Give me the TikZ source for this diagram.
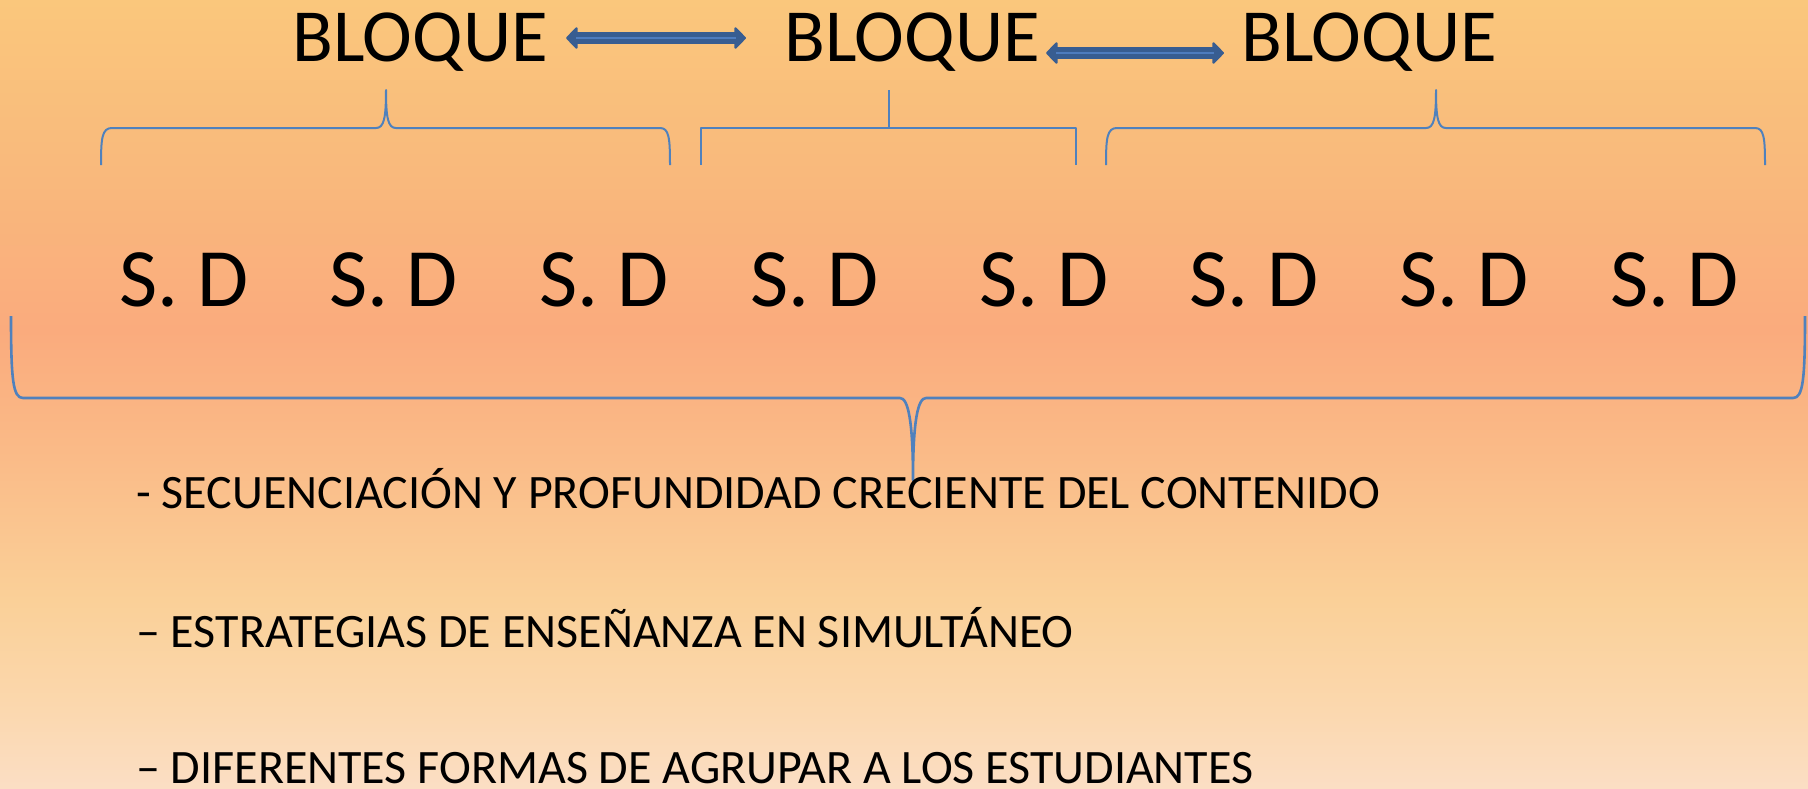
\documentclass[tikz,border=0pt]{standalone}
\usepackage{fontspec}
\setmainfont{Carlito}
\usetikzlibrary{arrows.meta}
\definecolor{bracecol}{HTML}{4F81BD}
\definecolor{arrowdark}{RGB}{56,93,145}
\definecolor{arrowlight}{RGB}{78,124,190}
\definecolor{bgA}{RGB}{250,199,124}
\definecolor{bgB}{RGB}{249,186,124}
\definecolor{bgC}{RGB}{250,171,125}
\definecolor{bgD}{RGB}{250,186,135}
\definecolor{bgE}{RGB}{250,208,152}
\definecolor{bgF}{RGB}{251,215,172}
\definecolor{bgG}{RGB}{251,222,196}
\pgfdeclareverticalshading{slidebg}{100bp}{color(0bp)=(bgG); color(25bp)=(bgG); color(30.58bp)=(bgF); color(36.93bp)=(bgE); color(46.45bp)=(bgD); color(54.06bp)=(bgC); color(64.85bp)=(bgB); color(75bp)=(bgA); color(100bp)=(bgA)}
\tikzset{
  bloque/.style={anchor=base, inner sep=0pt, font=\fontsize{75}{80}\selectfont},
  sdtext/.style={anchor=base, inner sep=0pt, font=\fontsize{83}{90}\selectfont},
  itemtext/.style={anchor=base west, inner sep=0pt, font=\fontsize{48}{52}\selectfont},
  bigarrow/.style={draw=arrowdark, line width=12pt,
    {Triangle[width=24pt,length=12pt,line width=2pt,round]}-{Triangle[width=24pt,length=12pt,line width=2pt,round]},
    postaction={draw=arrowlight, line width=1.6pt, -, shorten <=10pt, shorten >=10pt}},
  bracestyle/.style={draw=bracecol, line width=2pt, line join=round},
  bigbrace/.style={draw=bracecol, line width=2.6pt, line join=round}
}
\begin{document}
\begin{tikzpicture}[x=1pt,y=-1pt]
\useasboundingbox (0,0) rectangle (1808,788);
\shade[shading=slidebg] (0,0) rectangle (1808,788);

% top blocks
\node[bloque] (b1) at (420,61) {BLOQUE};
\node[bloque] (b2) at (912,61) {BLOQUE};
\node[bloque] (b3) at (1369,61) {BLOQUE};

\draw[bigarrow] ([shift={(18,-23)}]b1.base east) -- ([shift={(-38,-23)}]b2.base west);
\draw[bigarrow] ([shift={(6,-8)}]b2.base east) -- ([shift={(-17,-8)}]b3.base west);

% small braces
\draw[bracestyle] (101,165) .. controls (101,138) and (102,128) .. (112,128) -- (376,128)
  .. controls (384,128) and (386,118) .. (386,90)
  .. controls (386,118) and (388,128) .. (396,128) -- (660,128)
  .. controls (669,128) and (670,138) .. (670,165);
\draw[bracestyle] (701,165) -- (701,128) -- (1076,128) -- (1076,165);
\draw[bracestyle] (889,128) -- (889,90);
\draw[bracestyle] (1106,165) .. controls (1106,138) and (1107,128) .. (1117,128) -- (1426,128)
  .. controls (1434,128) and (1436,118) .. (1436,90)
  .. controls (1436,118) and (1438,128) .. (1446,128) -- (1755,128)
  .. controls (1764,128) and (1765,138) .. (1765,165);

% sessions
\node[sdtext] (s1) at (184,306) {S. D};
\node[sdtext] (s2) at (393.5,306) {S. D};
\node[sdtext] (s3) at (604,306) {S. D};
\node[sdtext] (s4) at (814.5,306) {S. D};
\node[sdtext] (s5) at (1044,306) {S. D};
\node[sdtext] (s6) at (1254,306) {S. D};
\node[sdtext] (s7) at (1464,306) {S. D};
\node[sdtext] (s8) at (1674.5,306) {S. D};

% big brace
\draw[bigbrace] (11,316) .. controls (11,380) and (13,398) .. (23,398) -- (900,398)
  .. controls (908,398) and (913,420) .. (913,480)
  .. controls (913,420) and (918,398) .. (926,398) -- (1793,398)
  .. controls (1803,398) and (1805,380) .. (1805,316);

% items
\node[itemtext] (t1) at (136,508) {- SECUENCIACIÓN Y PROFUNDIDAD CRECIENTE DEL CONTENIDO};
\node[itemtext] (t2) at (136,647) {– ESTRATEGIAS DE ENSEÑANZA EN SIMULTÁNEO};
\node[itemtext] (t3) at (136,783) {– DIFERENTES FORMAS DE AGRUPAR A LOS ESTUDIANTES};
\end{tikzpicture}
\end{document}
